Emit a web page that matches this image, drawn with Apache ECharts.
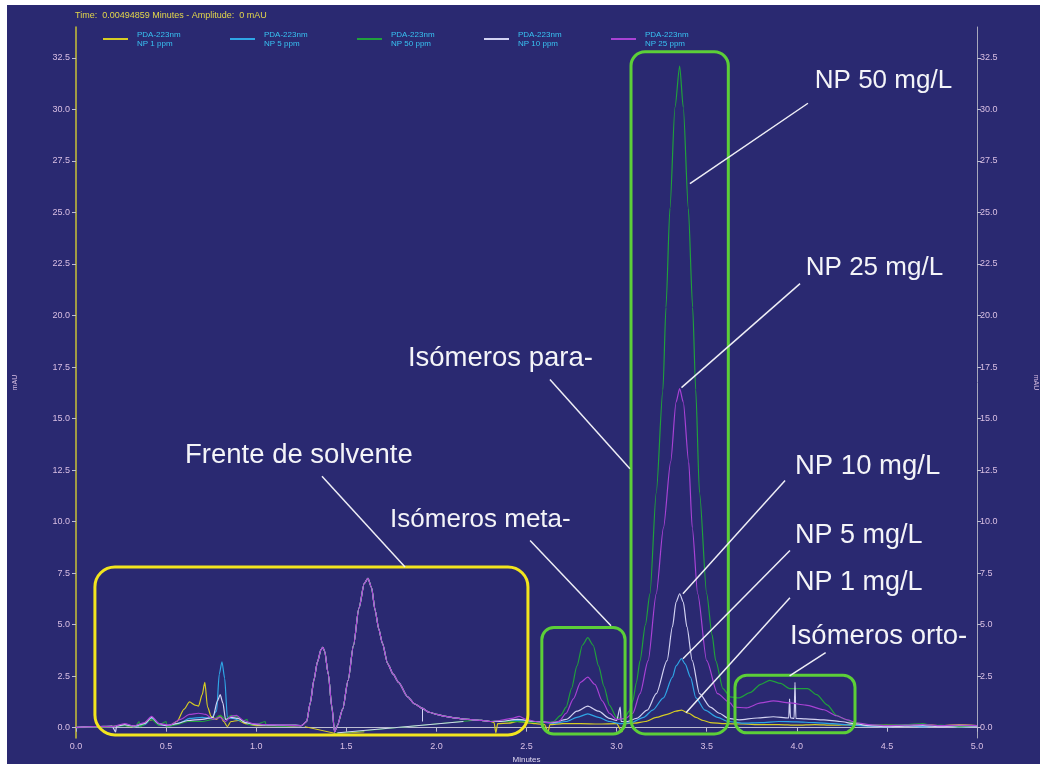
<!DOCTYPE html>
<html>
<head>
<meta charset="utf-8">
<script src="https://cdn.jsdelivr.net/npm/echarts@6/dist/echarts.min.js"></script>
<style>
  body { margin: 0; background: #ffffff; }
  #main { position: absolute; left: 7px; top: 5px; width: 1033px; height: 759px; }
</style>
</head>
<body>
<div id="main"></div>
<script>
// tick labels
var yTicks = [0, 2.5, 5, 7.5, 10, 12.5, 15, 17.5, 20, 22.5, 25, 27.5, 30, 32.5];

// series names (legend text)
var names = [
  'PDA-223nm\nNP 1 ppm',
  'PDA-223nm\nNP 5 ppm',
  'PDA-223nm\nNP 50 ppm',
  'PDA-223nm\nNP 10 ppm',
  'PDA-223nm\nNP 25 ppm'
];

// solvent front peaks, where all five traces lie on top of each other
var frontShared = [
  [1.25, 0.1], [1.28, 0.3], [1.30, 1.2], [1.32, 2.3], [1.34, 3.2], [1.36, 3.8], [1.37, 3.9],
  [1.38, 3.7], [1.40, 2.6], [1.42, 1.0], [1.435, -0.2], [1.45, 0.1], [1.48, 0.9], [1.51, 2.3],
  [1.54, 4.0], [1.57, 5.8], [1.60, 7.0], [1.62, 7.25], [1.64, 6.8], [1.66, 5.7], [1.68, 4.8],
  [1.70, 4.1], [1.73, 3.1], [1.76, 2.6], [1.79, 2.2], [1.84, 1.5], [1.88, 1.15], [1.92, 0.95],
  [1.96, 0.75], [2.00, 0.65], [2.05, 0.55], [2.10, 0.48], [2.15, 0.42], [2.20, 0.38],
  [2.25, 0.36], [2.30, 0.3]
];

var np1Start = [
  [0.00, 0.02], [0.08, 0.05], [0.15, 0.02], [0.22, 0.08], [0.26, 0.15], [0.30, 0.05], [0.36, 0.1],
  [0.40, 0.35], [0.43, 0.4], [0.46, 0.15], [0.52, 0.1], [0.56, 0.3], [0.60, 0.9], [0.63, 1.25],
  [0.66, 1.1], [0.68, 1.05], [0.70, 1.6], [0.715, 2.2], [0.73, 1.0], [0.75, 0.55], [0.78, 0.4],
  [0.80, 0.6], [0.82, 0.3], [0.84, 0.05], [0.86, 0.3], [0.90, 0.35], [0.94, 0.2], [1.00, 0.1],
  [1.10, 0.1], [1.20, 0.08]
];
var np1End = [
  [2.32, 0.25], [2.33, -0.25], [2.34, 0.2], [2.40, 0.22], [2.45, 0.3], [2.50, 0.25], [2.55, 0.2],
  [2.60, 0.15], [2.62, -0.2], [2.63, 0.15], [2.70, 0.2], [2.80, 0.2], [2.90, 0.18], [3.00, 0.2],
  [3.03, -0.2], [3.04, 0.2], [3.10, 0.22], [3.16, 0.3], [3.22, 0.5], [3.28, 0.65], [3.33, 0.8],
  [3.36, 0.85], [3.40, 0.7], [3.44, 0.5], [3.48, 0.35], [3.52, 0.25], [3.60, 0.2], [3.70, 0.18],
  [3.80, 0.15], [3.90, 0.15], [4.00, 0.12], [4.10, 0.15], [4.20, 0.12], [4.30, 0.15], [4.40, 0.1],
  [4.50, 0.12], [4.60, 0.1], [4.70, 0.15], [4.80, 0.1], [4.90, 0.15], [5.00, 0.1]
];

var np5Start = [
  [0.00, 0.02], [0.10, 0.04], [0.20, 0.05], [0.27, 0.12], [0.32, 0.05], [0.38, 0.15], [0.42, 0.45],
  [0.46, 0.15], [0.52, 0.1], [0.58, 0.25], [0.63, 0.45], [0.70, 0.5], [0.75, 0.45], [0.78, 0.8],
  [0.795, 2.6], [0.81, 3.2], [0.825, 2.4], [0.84, 0.5], [0.87, 0.45], [0.91, 0.35], [0.96, 0.2],
  [1.05, 0.12], [1.15, 0.1], [1.22, 0.1]
];
var np5End = [
  [2.35, 0.3], [2.45, 0.35], [2.55, 0.3], [2.65, 0.22], [2.72, 0.3], [2.78, 0.5], [2.84, 0.67],
  [2.90, 0.5], [2.96, 0.3], [3.02, 0.2], [3.08, 0.25], [3.15, 0.5], [3.20, 0.85], [3.26, 1.45],
  [3.31, 2.45], [3.33, 3.0], [3.36, 3.35], [3.38, 3.1], [3.41, 2.45], [3.44, 1.45], [3.49, 0.85],
  [3.56, 0.5], [3.62, 0.3], [3.70, 0.22], [3.80, 0.25], [3.90, 0.3], [4.00, 0.28], [4.10, 0.25],
  [4.20, 0.2], [4.30, 0.12], [4.40, 0.08], [4.50, 0.05], [4.60, 0.1], [4.70, 0.05], [4.80, 0.1],
  [4.90, 0.05], [5.00, 0.08]
];

var np50Start = [
  [0.00, 0.0], [0.10, 0.03], [0.20, 0.05], [0.27, 0.1], [0.33, 0.05], [0.35, 0.3], [0.355, 0.05],
  [0.42, 0.4], [0.46, 0.12], [0.50, 0.3], [0.505, 0.05], [0.56, 0.15], [0.62, 0.3], [0.70, 0.3],
  [0.76, 0.4], [0.80, 0.6], [0.83, 0.4], [0.86, 0.6], [0.89, 0.55], [0.92, 0.3], [0.95, 0.4],
  [0.955, 0.15], [1.00, 0.15], [1.05, 0.3], [1.055, 0.1], [1.15, 0.08], [1.22, 0.1]
];
var np50End = [
  [2.33, 0.35], [2.40, 0.3], [2.50, 0.28], [2.60, 0.25], [2.65, 0.3], [2.69, 0.6], [2.72, 1.0],
  [2.75, 1.9], [2.78, 3.0], [2.81, 4.0], [2.84, 4.37], [2.87, 4.0], [2.90, 3.0], [2.93, 2.0],
  [2.96, 1.1], [3.00, 0.5], [3.04, 0.4], [3.07, 0.8], [3.09, 1.3], [3.11, 2.2], [3.13, 3.25],
  [3.16, 5.0], [3.185, 6.5], [3.22, 11.4], [3.257, 16.4], [3.274, 20.4], [3.296, 25.2],
  [3.324, 30.1], [3.35, 32.1], [3.37, 30.1], [3.398, 25.2], [3.422, 20.4], [3.439, 16.4],
  [3.46, 11.4], [3.50, 6.5], [3.53, 4.5], [3.55, 3.25], [3.59, 1.9], [3.63, 1.5], [3.68, 1.45],
  [3.74, 1.7], [3.80, 2.1], [3.85, 2.3], [3.91, 2.15], [3.96, 1.9], [4.02, 1.9], [4.06, 1.9],
  [4.11, 1.6], [4.17, 1.1], [4.22, 0.6], [4.27, 0.4], [4.31, 0.25], [4.40, 0.15], [4.50, 0.12],
  [4.60, 0.15], [4.70, 0.2], [4.75, 0.1], [4.80, 0.12], [4.90, 0.05], [5.00, 0.1]
];

var np10Start = [
  [0.00, 0.0], [0.10, 0.05], [0.20, 0.08], [0.22, -0.2], [0.225, 0.08], [0.27, 0.15], [0.32, 0.08],
  [0.38, 0.2], [0.42, 0.5], [0.46, 0.2], [0.50, 0.1], [0.56, 0.2], [0.62, 0.35], [0.70, 0.4],
  [0.76, 0.5], [0.785, 1.3], [0.80, 1.6], [0.815, 1.2], [0.83, 0.4], [0.86, 0.5], [0.90, 0.45],
  [0.94, 0.25], [1.00, 0.15], [1.10, 0.12], [1.22, 0.12]
];
var np10End = [
  [2.35, 0.3], [2.45, 0.4], [2.55, 0.3], [2.65, 0.25], [2.72, 0.4], [2.78, 0.8], [2.84, 1.05],
  [2.90, 0.8], [2.96, 0.45], [3.00, 0.35], [3.02, 1.0], [3.025, 0.3], [3.06, 0.3], [3.11, 0.45],
  [3.17, 0.85], [3.22, 1.65], [3.28, 3.25], [3.31, 4.9], [3.33, 6.1], [3.35, 6.5], [3.37, 6.1],
  [3.39, 4.9], [3.42, 3.25], [3.46, 1.65], [3.52, 1.0], [3.57, 0.7], [3.62, 0.45], [3.68, 0.38],
  [3.78, 0.47], [3.87, 0.53], [3.955, 0.47], [3.96, 1.4], [3.965, 0.47], [3.985, 0.45],
  [3.99, 2.2], [3.995, 0.45], [4.05, 0.43], [4.15, 0.38], [4.24, 0.3], [4.32, 0.2], [4.40, 0.1],
  [4.50, 0.05], [4.60, 0.08], [4.70, 0.1], [4.80, 0.05], [4.90, 0.1], [5.00, 0.08]
];

var np25Start = [
  [0.00, 0.02], [0.10, 0.05], [0.20, 0.05], [0.27, 0.2], [0.32, 0.08], [0.38, 0.25], [0.42, 0.55],
  [0.46, 0.2], [0.52, 0.12], [0.58, 0.4], [0.63, 0.65], [0.68, 0.7], [0.72, 0.65], [0.76, 0.4],
  [0.80, 0.5], [0.83, 0.3], [0.86, 0.55], [0.89, 0.6], [0.93, 0.35], [0.98, 0.2], [1.05, 0.15],
  [1.15, 0.12], [1.22, 0.1]
];
var np25End = [
  [2.35, 0.35], [2.42, 0.45], [2.46, 0.55], [2.50, 0.4], [2.55, 0.3], [2.62, 0.25], [2.68, 0.3],
  [2.72, 0.7], [2.76, 1.4], [2.80, 2.2], [2.84, 2.45], [2.88, 2.1], [2.92, 1.3], [2.96, 0.7],
  [3.00, 0.4], [3.05, 0.45], [3.09, 0.7], [3.13, 1.65], [3.175, 3.25], [3.22, 6.5], [3.26, 9.7],
  [3.30, 12.9], [3.33, 15.8], [3.35, 16.45], [3.37, 15.8], [3.40, 12.9], [3.42, 9.7], [3.45, 6.5],
  [3.50, 3.25], [3.56, 1.65], [3.63, 1.2], [3.65, 1.0], [3.72, 0.96], [3.80, 1.2], [3.87, 1.3],
  [3.96, 1.2], [4.05, 1.1], [4.15, 0.87], [4.22, 0.58], [4.28, 0.38], [4.33, 0.24], [4.40, 0.15],
  [4.50, 0.1], [4.60, 0.12], [4.70, 0.15], [4.80, 0.1], [4.90, 0.12], [5.00, 0.1]
];

// annotations, in data units (minutes, mAU)
var boxes = [
  { from: [0.105, 7.8], to: [2.508, -0.35], color: '#f2e51e', r: 20 },
  { from: [2.585, 4.86], to: [3.047, -0.3], color: '#5ccf38', r: 12 },
  { from: [3.08, 32.8], to: [3.62, -0.3], color: '#5ccf38', r: 14 },
  { from: [3.657, 2.55], to: [4.323, -0.25], color: '#5ccf38', r: 12 }
];
var notes = [
  { text: 'NP 50 mg/L', at: [4.10, 31.4], size: 26 },
  { text: 'NP 25 mg/L', at: [4.05, 22.3], size: 26 },
  { text: 'Isómeros para-', at: [1.842, 17.9], size: 27.5 },
  { text: 'Frente de solvente', at: [0.605, 13.2], size: 27.5 },
  { text: 'Isómeros meta-', at: [1.743, 10.1], size: 26 },
  { text: 'NP 10 mg/L', at: [3.99, 12.67], size: 27.5 },
  { text: 'NP 5 mg/L', at: [3.99, 9.32], size: 27 },
  { text: 'NP 1 mg/L', at: [3.99, 7.04], size: 27 },
  { text: 'Isómeros orto-', at: [3.962, 4.42], size: 27.5 }
];
var leaders = [
  [[4.062, 30.3], [3.407, 26.4]],
  [[4.018, 21.55], [3.36, 16.5]],
  [[2.63, 16.9], [3.074, 12.57]],
  [[1.365, 12.2], [1.826, 7.8]],
  [[2.52, 9.08], [2.969, 4.95]],
  [[3.935, 12.0], [3.368, 6.5]],
  [[3.962, 8.6], [3.368, 3.35]],
  [[3.962, 6.3], [3.385, 0.73]],
  [[4.16, 3.64], [3.96, 2.52]]
];

var colors = ['#d6cc24', '#2fa6e6', '#20a03c', '#d2d2f2', '#a842d4'];

var chart = echarts.init(document.getElementById('main'));

function trace(i, data, extra) {
  var s = {
    name: names[i],
    type: 'line',
    data: data,
    showSymbol: false,
    smooth: 0.25,
    smoothMonotone: 'x',
    lineStyle: { width: 1.2, color: colors[i] },
    itemStyle: { color: colors[i] },
    z: 2 + i
  };
  if (extra) s.markLine = extra;
  return s;
}

function baseline(segs, color) {
  return {
    symbol: 'none',
    silent: true,
    label: { show: false },
    lineStyle: { color: color, type: 'solid', width: 1 },
    data: segs.map(function (p) { return [{ coord: p[0] }, { coord: p[1] }]; })
  };
}

var labelColor = '#d9bfe3';

chart.setOption({
  animation: false,
  backgroundColor: '#2a2971',
  title: {
    text: 'Time:  0.00494859 Minutes - Amplitude:  0 mAU',
    left: 63,
    top: 1,
    textStyle: { color: '#e4d84a', fontSize: 9, fontWeight: 'normal', fontFamily: 'Liberation Sans' }
  },
  legend: {
    left: 91,
    top: 20,
    icon: 'rect',
    itemWidth: 25,
    itemHeight: 2,
    itemGap: 31,
    textStyle: { color: '#38c2f2', fontSize: 8, lineHeight: 9, width: 62, padding: [0, 0, 0, 4],
      fontFamily: 'Liberation Sans' },
    data: names
  },
  grid: { left: 69, right: 63, top: 22, bottom: 26, outerBoundsMode: 'none' },
  xAxis: {
    type: 'value',
    min: 0,
    max: 5,
    interval: 0.5,
    name: 'Minutes',
    nameLocation: 'middle',
    nameGap: 17,
    nameTextStyle: { color: '#e0d8f0', fontSize: 8 },
    axisLine: { lineStyle: { color: '#bdbdd2', width: 1 } },
    axisTick: { length: 4, lineStyle: { color: '#bdbdd2' } },
    axisLabel: { color: labelColor, fontSize: 9, margin: 4, formatter: function (v) { return v.toFixed(1); } },
    splitLine: { show: false }
  },
  yAxis: [
    {
      type: 'value',
      min: -0.5,
      max: 34,
      position: 'left',
      name: 'mAU',
      nameLocation: 'middle',
      nameGap: 57,
      nameTextStyle: { color: labelColor, fontSize: 7 },
      axisLine: { show: true, lineStyle: { color: '#c9c236', width: 1.5 } },
      axisTick: { show: true, length: 4, customValues: yTicks, lineStyle: { color: '#bdbdd2' } },
      axisLabel: { color: labelColor, fontSize: 9, margin: 6, customValues: yTicks,
        formatter: function (v) { return v.toFixed(1); } },
      splitLine: { show: false }
    },
    {
      type: 'value',
      min: -0.5,
      max: 34,
      position: 'right',
      name: 'mAU',
      nameLocation: 'middle',
      nameGap: 55,
      nameRotate: -90,
      nameTextStyle: { color: labelColor, fontSize: 7 },
      axisLine: { show: true, lineStyle: { color: '#a8a8bc', width: 1 } },
      axisTick: { show: true, length: 4, customValues: yTicks, lineStyle: { color: '#bdbdd2' } },
      axisLabel: { color: labelColor, fontSize: 9, margin: 3, customValues: yTicks,
        formatter: function (v) { return v.toFixed(1); } },
      splitLine: { show: false }
    }
  ],
  series: [
    trace(0, np1Start.concat(frontShared, np1End),
      baseline([[[1.27, 0.05], [1.44, -0.28]], [[1.44, -0.28], [1.6, -0.2]]], colors[0])),
    trace(1, np5Start.concat(frontShared, np5End)),
    trace(2, np50Start.concat(frontShared, np50End),
      baseline([[[1.44, -0.28], [2.2, 0.35]]], colors[2])),
    trace(3, np10Start.concat(frontShared, np10End),
      baseline([[[1.92, 0.3], [1.92, 0.95]], [[1.45, -0.25], [2.15, 0.3]]], colors[3])),
    trace(4, np25Start.concat(frontShared, np25End))
  ]
});

function px(p) { return chart.convertToPixel({ gridIndex: 0 }, p); }

var graphics = [];
boxes.forEach(function (b) {
  var a = px(b.from), c = px(b.to);
  graphics.push({
    type: 'rect',
    shape: { x: a[0], y: a[1], width: c[0] - a[0], height: c[1] - a[1], r: b.r },
    style: { fill: 'none', stroke: b.color, lineWidth: 3 },
    z: 100
  });
});
leaders.forEach(function (l) {
  var a = px(l[0]), c = px(l[1]);
  graphics.push({
    type: 'line',
    shape: { x1: a[0], y1: a[1], x2: c[0], y2: c[1] },
    style: { stroke: '#eeeef6', lineWidth: 1.5 },
    z: 100
  });
});
notes.forEach(function (n) {
  var a = px(n.at);
  graphics.push({
    type: 'text',
    x: a[0],
    y: a[1],
    style: {
      text: n.text, fill: '#f4f4f8', fontSize: n.size,
      fontFamily: 'Liberation Sans', verticalAlign: 'middle', align: 'left'
    },
    z: 101
  });
});
chart.setOption({ graphic: graphics });
</script>
</body>
</html>
